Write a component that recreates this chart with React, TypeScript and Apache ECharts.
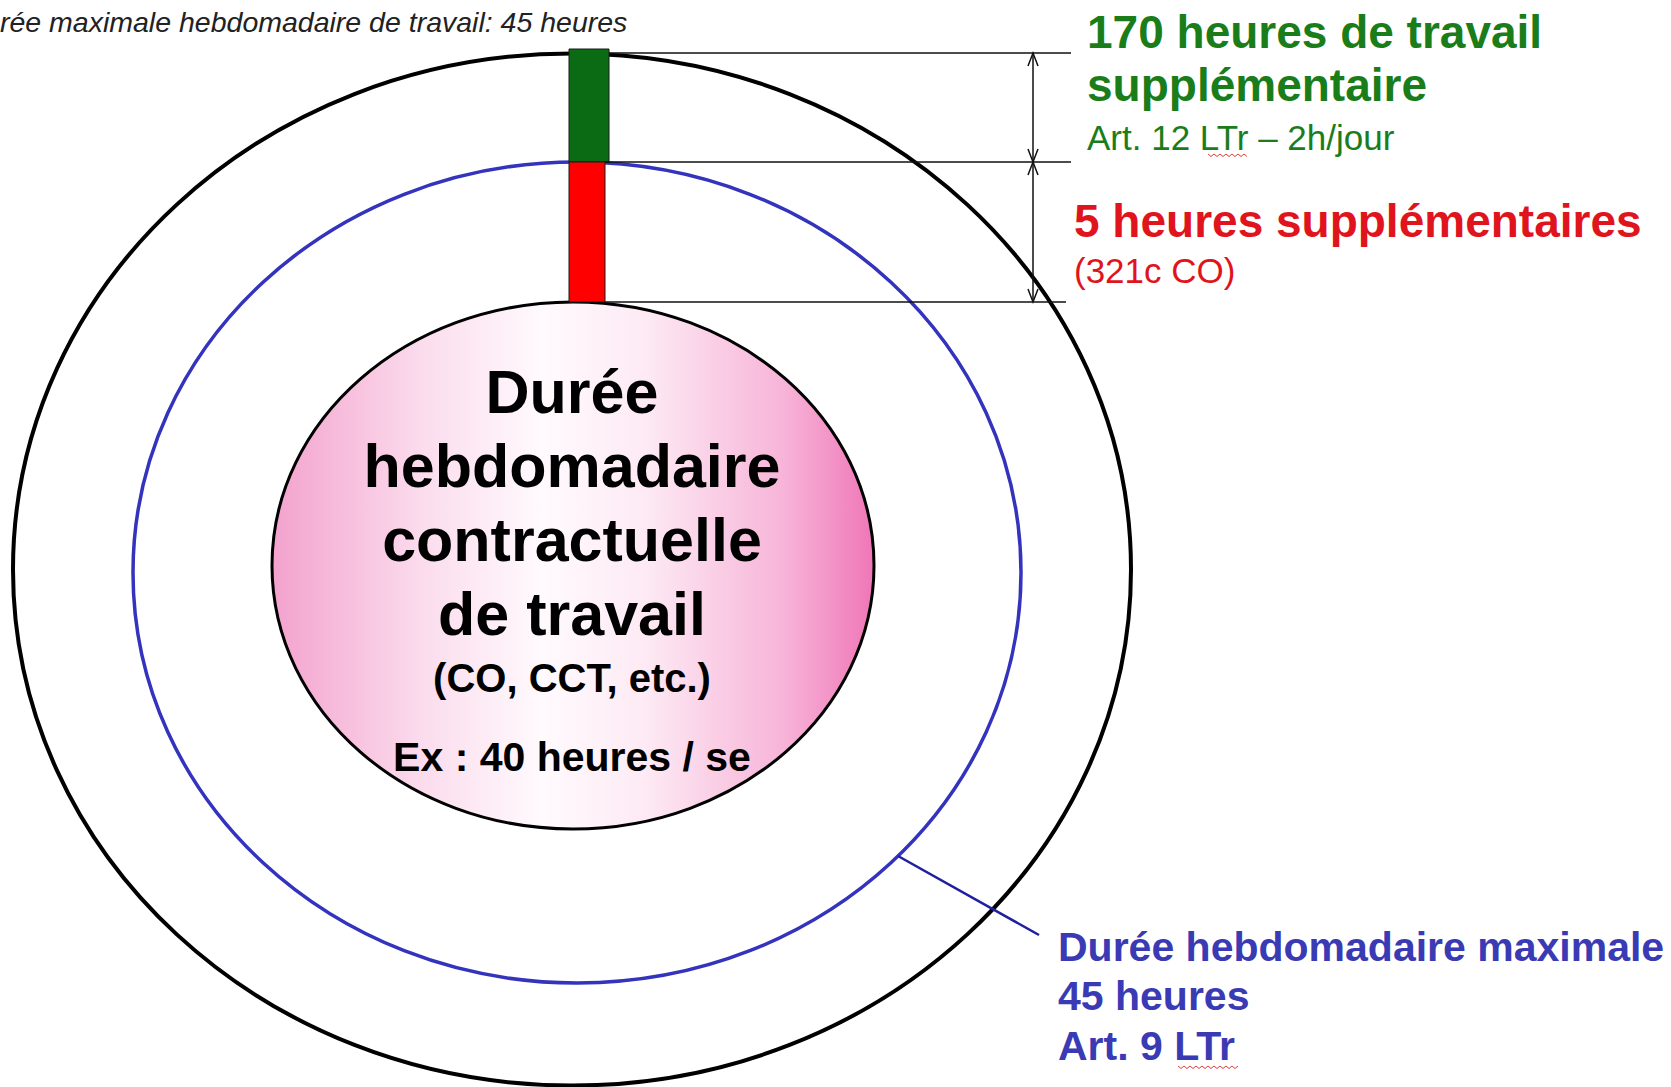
import React, { useEffect, useRef } from "react";
import * as echarts from "echarts";

const headerLines = ["rée maximale hebdomadaire de travail: 45 heures"];
const centerTitleLines = ["Durée", "hebdomadaire", "contractuelle", "de travail"];
const centerSubLines = ["(CO, CCT, etc.)", "Ex : 40 heures / se"];
const overtimeTitleLines = ["170 heures de travail", "supplémentaire"];
const overtimeRefLines = ["Art. 12 LTr – 2h/jour"];
const extraTitleLines = ["5 heures supplémentaires"];
const extraRefLines = ["(321c CO)"];
const maxLines = ["Durée hebdomadaire maximale", "45 heures", "Art. 9 LTr"];

const FONT = "'Liberation Sans', Arial, Helvetica, sans-serif";

function txt(text: string, x: number, y: number, size: number, color: string, opts: any = {}) {
  return {
    type: "text",
    z: 20,
    style: {
      text,
      x,
      y,
      fill: color,
      fontFamily: FONT,
      fontSize: size,
      fontWeight: opts.bold ? "bold" : "normal",
      fontStyle: opts.italic ? "italic" : "normal",
      textAlign: opts.align || "left",
      textVerticalAlign: "middle",
    },
  };
}

function squiggle(x0: number, x1: number, y: number) {
  const pts: number[][] = [];
  let up = true;
  for (let x = x0; x <= x1; x += 3) {
    pts.push([x, up ? y : y + 2.5]);
    up = !up;
  }
  return { type: "polyline", z: 21, shape: { points: pts }, style: { stroke: "#e04040", lineWidth: 1, fill: null } };
}

export default function App() {
  const ref = useRef<HTMLDivElement>(null);
  useEffect(() => {
    document.body.style.margin = "0";
    const chart = echarts.init(ref.current!, undefined, { renderer: "svg" });
    const els: any[] = [];

    // Outer ellipse (overtime limit)
    els.push({
      type: "ellipse", z: 1,
      shape: { cx: 572, cy: 569.5, rx: 559, ry: 516 },
      style: { fill: "#ffffff", stroke: "#000000", lineWidth: 4 },
    });
    // Blue ellipse (max weekly duration)
    els.push({
      type: "ellipse", z: 2,
      shape: { cx: 577, cy: 572.5, rx: 444, ry: 410.5 },
      style: { fill: "none", stroke: "#3333bd", lineWidth: 3.5 },
    });
    // Pink inner ellipse
    els.push({
      type: "ellipse", z: 3,
      shape: { cx: 573, cy: 565.5, rx: 301, ry: 263.5 },
      style: {
        fill: new echarts.graphic.LinearGradient(0, 0, 1, 0, [
          { offset: 0, color: "#f3a2cd" },
          { offset: 0.25, color: "#fbdced" },
          { offset: 0.45, color: "#fffafd" },
          { offset: 0.62, color: "#fdeaf4" },
          { offset: 0.85, color: "#f7b4d8" },
          { offset: 1, color: "#ef76b7" },
        ]),
        stroke: "#000000",
        lineWidth: 3,
      },
    });

    // Bars
    els.push({ type: "rect", z: 5, shape: { x: 569, y: 49, width: 40, height: 113 }, style: { fill: "#0a6b14", stroke: "#1a1a1a", lineWidth: 1 } });
    els.push({ type: "rect", z: 5, shape: { x: 569, y: 162, width: 36, height: 140 }, style: { fill: "#ff0000", stroke: "#1a1a1a", lineWidth: 1 } });

    // Horizontal reference lines
    const hl = (x0: number, x1: number, y: number) => ({ type: "line", z: 6, shape: { x1: x0, y1: y, x2: x1, y2: y }, style: { stroke: "#111", lineWidth: 1.5 } });
    els.push(hl(609, 1071, 53));
    els.push(hl(605, 1071, 162));
    els.push(hl(605, 1066, 302));

    // Vertical dimension arrows
    const ax = 1033;
    els.push({ type: "line", z: 6, shape: { x1: ax, y1: 53, x2: ax, y2: 302 }, style: { stroke: "#111", lineWidth: 1.5 } });
    const chev = (y: number, dir: number) => ({
      type: "polyline", z: 6,
      shape: { points: [[ax - 5, y + dir * 13], [ax, y], [ax + 5, y + dir * 13]] },
      style: { stroke: "#111", lineWidth: 1.5, fill: null },
    });
    els.push(chev(53, 1), chev(162, -1), chev(162, 1), chev(302, -1));

    // Blue leader line
    els.push({ type: "line", z: 6, shape: { x1: 898, y1: 856, x2: 1039, y2: 935 }, style: { stroke: "#1f1fa0", lineWidth: 2.5 } });

    // Header
    els.push(txt(headerLines[0], 0, 22, 28.5, "#222222", { italic: true }));

    // Centre text
    const titleY = [392, 466, 540, 614];
    centerTitleLines.forEach((t, i) => els.push(txt(t, 572, titleY[i], 61, "#000000", { bold: true, align: "center" })));
    els.push(txt(centerSubLines[0], 572, 678, 40, "#000000", { bold: true, align: "center" }));
    els.push(txt(centerSubLines[1], 572, 757, 41, "#000000", { bold: true, align: "center" }));

    // Green
    const green = "#1a7d1a";
    els.push(txt(overtimeTitleLines[0], 1087, 32, 46, green, { bold: true }));
    els.push(txt(overtimeTitleLines[1], 1087, 85, 46, green, { bold: true }));
    els.push(txt(overtimeRefLines[0], 1087, 137, 35, green));
    els.push(squiggle(1208, 1248, 154));

    // Red
    const red = "#e0141c";
    els.push(txt(extraTitleLines[0], 1074, 221, 46, red, { bold: true }));
    els.push(txt(extraRefLines[0], 1074, 270, 35, red));

    // Blue
    const blue = "#3a3ab4";
    const blueY = [947, 996, 1046];
    maxLines.forEach((t, i) => els.push(txt(t, 1058, blueY[i], 41, blue, { bold: true })));
    els.push(squiggle(1178, 1238, 1066));

    chart.setOption({ animation: false, backgroundColor: "#ffffff", graphic: { elements: els } });
    return () => chart.dispose();
  }, []);
  return <div ref={ref} style={{ position: "fixed", left: 0, top: 0, width: 1671, height: 1087 }} />;
}
